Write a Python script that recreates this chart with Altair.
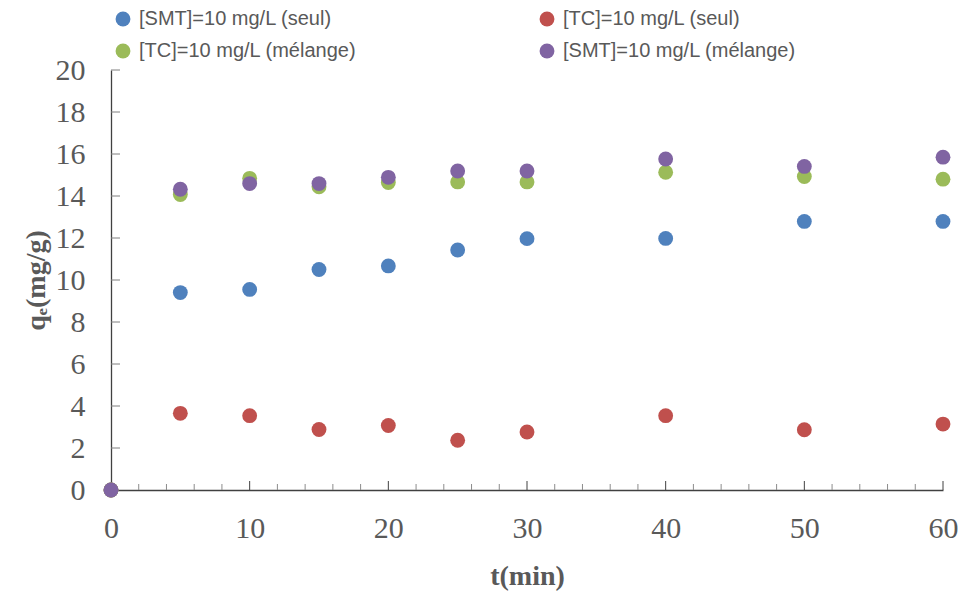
import altair as alt
import pandas as pd

t = [0, 5, 10, 15, 20, 25, 30, 40, 50, 60]
smt_seul = [0, 9.40, 9.55, 10.50, 10.67, 11.43, 11.97, 11.98, 12.79, 12.79]
tc_seul = [0, 3.65, 3.54, 2.88, 3.07, 2.37, 2.76, 3.54, 2.87, 3.14]
tc_mel = [0, 14.07, 14.84, 14.44, 14.64, 14.67, 14.67, 15.13, 14.93, 14.80]
smt_mel = [0, 14.32, 14.59, 14.59, 14.89, 15.19, 15.19, 15.76, 15.41, 15.85]

series = ["[SMT]=10 mg/L (seul)", "[TC]=10 mg/L (seul)",
          "[TC]=10 mg/L (mélange)", "[SMT]=10 mg/L (mélange)"]
colors = ["#4F81BD", "#C0504D", "#9BBB59", "#8064A2"]

x_minor = [v for v in range(2, 60, 2) if v % 10 != 0]
x_major = [10, 20, 30, 40, 50, 60]
y_ticks = list(range(2, 21, 2))

rows = []
for k, (name, vals) in enumerate(zip(series, [smt_seul, tc_seul, tc_mel, smt_mel])):
    for tt, v in zip(t, vals):
        rows.append({"t": tt, "q": v, "serie": name, "k": k})
df = pd.DataFrame(rows)

W, H = 832, 420
serif = "Liberation Serif"

xs = alt.Scale(domain=[0, 60], nice=False)
ys = alt.Scale(domain=[0, 20], nice=False)

points = alt.Chart(df).mark_circle(size=220, opacity=1).encode(
    x=alt.X("t:Q", scale=xs, title="t(min)",
            axis=alt.Axis(values=[0, 10, 20, 30, 40, 50, 60], ticks=False, grid=False,
                          labelFlush=False,
                          labelFont=serif, labelFontSize=30, labelColor="#595959",
                          labelPadding=23, domainColor="#404040", domainWidth=1.3,
                          titleFont=serif, titleFontSize=28, titleFontWeight="bold",
                          titleColor="#595959", titlePadding=19)),
    y=alt.Y("q:Q", scale=ys, title="qₑ(mg/g)",
            axis=alt.Axis(values=list(range(0, 21, 2)), ticks=False, grid=False,
                          labelFlush=False,
                          labelFont=serif, labelFontSize=30, labelColor="#595959",
                          labelPadding=26, domainColor="#404040", domainWidth=1.3,
                          titleFont=serif, titleFontSize=28, titleFontWeight="bold",
                          titleColor="#595959", titlePadding=5)),
    color=alt.Color("serie:N", scale=alt.Scale(domain=series, range=colors),
                    legend=alt.Legend(title=None, orient="none", legendX=2, legendY=-61,
                                      direction="horizontal",
                                      columns=2, columnPadding=180, rowPadding=12,
                                      symbolType="circle", symbolSize=220,
                                      labelFont="Liberation Sans", labelFontSize=20,
                                      labelLimit=0,
                                      labelColor="#595959", labelOffset=6)),
    order=alt.Order("k:Q"),
)

xminor = alt.Chart(pd.DataFrame({"v": x_minor})).mark_rule(color="#8c8c8c", strokeWidth=1).encode(
    x=alt.X("v:Q", scale=xs), y=alt.value(H), y2=alt.value(H - 6))
xmajor = alt.Chart(pd.DataFrame({"v": x_major})).mark_rule(color="#404040", strokeWidth=1).encode(
    x=alt.X("v:Q", scale=xs), y=alt.value(H), y2=alt.value(H - 9))
ytk = alt.Chart(pd.DataFrame({"v": y_ticks})).mark_rule(color="#7f7f7f", strokeWidth=1).encode(
    y=alt.Y("v:Q", scale=ys), x=alt.value(0), x2=alt.value(9))

chart = alt.layer(ytk, xminor, xmajor, points).properties(
    width=W, height=H,
    background="white",
    autosize=alt.AutoSizeParams(type="none"),
    padding={"left": 111, "top": 70, "right": 20, "bottom": 104},
).configure_view(stroke="white", strokeWidth=0, strokeOpacity=0)

chart.save("out.html", embed_options={"renderer": "svg", "actions": False})
